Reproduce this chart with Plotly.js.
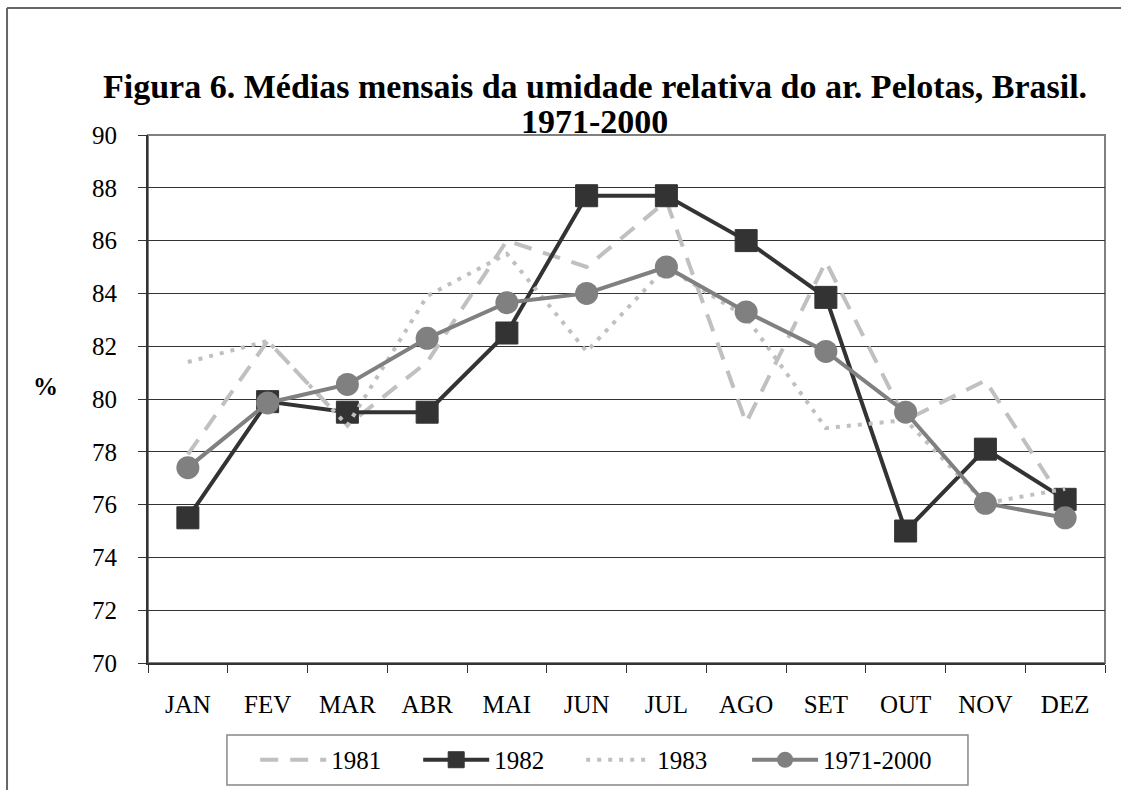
<!DOCTYPE html>
<html>
<head>
<meta charset="utf-8">
<script src="https://cdn.plot.ly/plotly-3.0.1.min.js"></script>
<style>html,body{margin:0;padding:0;background:#fff;}#chart{width:1121px;height:790px;}</style>
</head>
<body>
<div id="chart"></div>
<script>
const months = ['JAN','FEV','MAR','ABR','MAI','JUN','JUL','AGO','SET','OUT','NOV','DEZ'];
const y1981 = [77.9, 82.2, 79.0, 81.4, 86.0, 85.0, 87.5, 79.1, 85.2, 79.2, 80.7, 76.0];
const y1982 = [75.5, 79.9, 79.5, 79.5, 82.5, 87.7, 87.7, 86.0, 83.85, 75.0, 78.1, 76.2];
const y1983 = [81.4, 82.2, 79.0, 83.9, 85.5, 81.8, 85.0, 83.1, 78.9, 79.2, 76.05, 76.6];
const yMean = [77.4, 79.85, 80.55, 82.3, 83.65, 84.0, 85.0, 83.3, 81.8, 79.5, 76.05, 75.5];
const seriesNames = ['1981', '1982', '1983', '1971-2000'];
const titleLine1 = 'Figura 6. Médias mensais da umidade relativa do ar. Pelotas, Brasil.';
const titleLine2 = '1971-2000';
const yLabel = '%';

const FONT = '"Liberation Serif", "Times New Roman", serif';

const traces = [
  {x: months, y: y1981, name: seriesNames[0], type: 'scatter', mode: 'lines', legend: 'legend',
   line: {color: '#c0c0c0', width: 4, dash: '18px,12px'}},
  {x: months, y: y1982, name: seriesNames[1], type: 'scatter', mode: 'lines+markers', legend: 'legend',
   line: {color: '#333333', width: 4},
   marker: {symbol: 'square', size: 22, color: '#333333', line: {color: '#333333', width: 1}}},
  {x: months, y: y1983, name: seriesNames[2], type: 'scatter', mode: 'lines', legend: 'legend',
   line: {color: '#c0c0c0', width: 4, dash: '4px,7px'}},
  {x: months, y: yMean, name: seriesNames[3], type: 'scatter', mode: 'lines+markers', legend: 'legend2',
   line: {color: '#808080', width: 4},
   marker: {symbol: 'circle', size: 23, color: '#808080'}}
];

const legendCommon = {orientation: 'h', yanchor: 'middle', y: -0.1837, xanchor: 'left',
  borderwidth: 0, bgcolor: 'rgba(0,0,0,0)', font: {family: FONT, size: 25, color: '#000'},
  itemwidth: 66, traceorder: 'normal'};

const layout = {
  width: 1121, height: 790,
  margin: {l: 148, r: 16, t: 135, b: 127, autoexpand: false},
  paper_bgcolor: '#ffffff', plot_bgcolor: '#ffffff',
  font: {family: FONT, size: 25, color: '#000'},
  showlegend: true,
  legend: Object.assign({}, legendCommon, {x: 0.112, entrywidth: 82}),
  legend2: Object.assign({}, legendCommon, {x: 0.626}),
  xaxis: {type: 'category', categoryorder: 'array', categoryarray: months, range: [-0.5, 11.5],
    autorange: false,
    tickson: 'boundaries', ticks: 'outside', ticklen: 8, tickcolor: '#333', tickwidth: 1,
    showline: true, linecolor: '#333', linewidth: 2, showgrid: false,
    ticklabelstandoff: 18, tickfont: {family: FONT, size: 25, color: '#000'}},
  yaxis: {range: [70, 90], autorange: false, dtick: 2, tick0: 70, ticks: 'outside', ticklen: 8, tickcolor: '#333',
    showline: true, linecolor: '#333', linewidth: 2, showgrid: true, gridcolor: '#333', gridwidth: 1,
    zeroline: false, ticklabelstandoff: 16, tickfont: {family: FONT, size: 25, color: '#000'}},
  shapes: [
    {type: 'rect', xref: 'paper', yref: 'paper', x0: 0, x1: 1, y0: 0, y1: 1,
     line: {color: '#808080', width: 2}, layer: 'below'},
    {type: 'line', xref: 'paper', yref: 'paper', x0: -0.1473, x1: 1.03, y0: 1.2405, y1: 1.2405,
     line: {color: '#666', width: 2}, layer: 'below'},
    {type: 'line', xref: 'paper', yref: 'paper', x0: -0.1473, x1: -0.1473, y0: -0.25, y1: 1.2405,
     line: {color: '#666', width: 2}, layer: 'below'},
    {type: 'rect', xref: 'paper', yref: 'paper', x0: 0.0825, x1: 0.8568, y0: -0.231, y1: -0.1364,
     line: {color: '#888', width: 1.5}, layer: 'below'}
  ],
  annotations: [
    {text: '<b>' + titleLine1 + '</b>', xref: 'paper', yref: 'paper', x: 0.467, y: 1.091,
     xanchor: 'center', yanchor: 'middle', showarrow: false, font: {family: FONT, size: 34, color: '#000'}},
    {text: '<b>' + titleLine2 + '</b>', xref: 'paper', yref: 'paper', x: 0.467, y: 1.025,
     xanchor: 'center', yanchor: 'middle', showarrow: false, font: {family: FONT, size: 34, color: '#000'}},
    {text: '<b>' + yLabel + '</b>', xref: 'paper', yref: 'paper', x: -0.1076, y: 0.5246,
     xanchor: 'center', yanchor: 'middle', showarrow: false, font: {family: FONT, size: 25, color: '#000'}}
  ]
};

Plotly.newPlot('chart', traces, layout, {displayModeBar: false, staticPlot: true});
</script>
</body>
</html>
